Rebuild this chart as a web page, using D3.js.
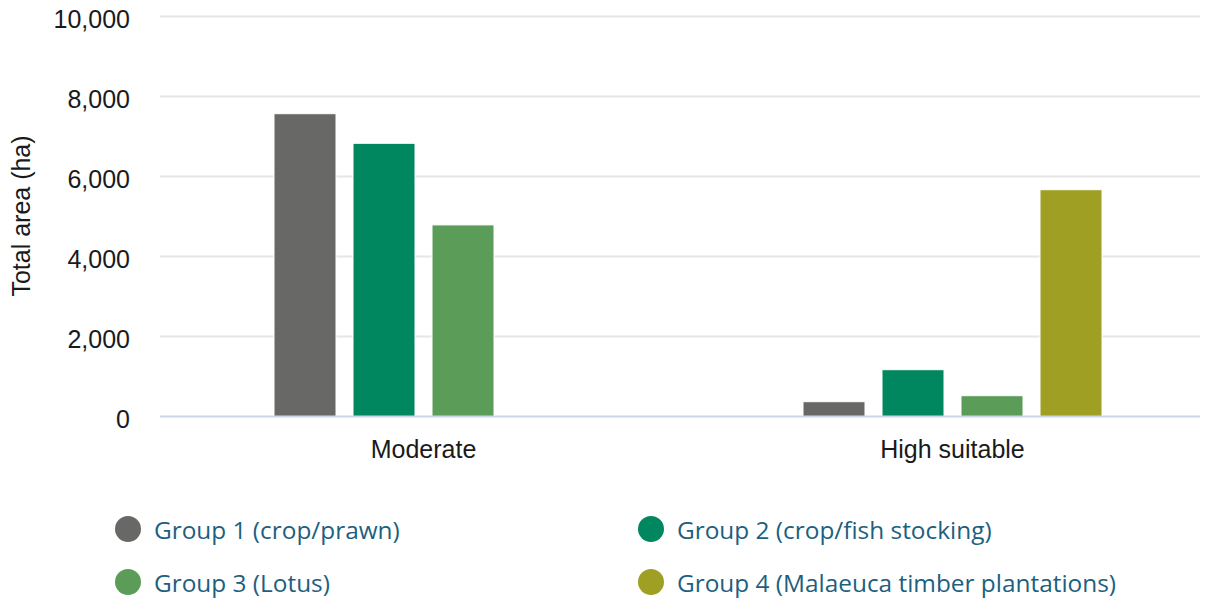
<!DOCTYPE html>
<html>
<head>
<meta charset="utf-8">
<script src="https://cdn.jsdelivr.net/npm/d3@7"></script>
<style>
  html, body { margin: 0; padding: 0; background: #ffffff; }
  svg { display: block; }
</style>
</head>
<body>
<svg id="chart" width="1216" height="602"></svg>
<script>
// Suitability classes on the x axis
const categories = ["Moderate", "High suitable"];
// Farming groups (one bar each per class)
const seriesNames = [
  "Group 1 (crop/prawn)",
  "Group 2 (crop/fish stocking)",
  "Group 3 (Lotus)",
  "Group 4 (Malaeuca timber plantations)"
];
const seriesColors = ["#686866", "#00875f", "#5b9c59", "#9fa023"];
// Total area (ha) per group, in category order
const group1 = [7570, 370];
const group2 = [6830, 1170];
const group3 = [4790, 520];
const group4 = [null, 5670];
const seriesValues = [group1, group2, group3, group4];
const yTicks = [0, 2000, 4000, 6000, 8000, 10000];

const svg = d3.select("#chart");

const y = d3.scaleLinear().domain([0, 10000]).range([416.5, 16.5]);
const x0 = d3.scaleBand().domain(categories).range([159, 1217]);
const x1 = d3.scaleBand()
  .domain(seriesNames)
  .range([115, 414])
  .paddingInner(17 / 79);

// Horizontal gridlines
const grid = svg.append("g");
grid.selectAll("line")
  .data(yTicks.filter(d => d !== 0))
  .join("line")
  .attr("x1", 160).attr("x2", 1200)
  .attr("y1", d => y(d)).attr("y2", d => y(d))
  .attr("stroke", "#e6e6e6")
  .attr("stroke-width", 2);

// Y axis tick labels
const yAxis = d3.axisLeft(y)
  .tickValues(yTicks)
  .tickSize(0)
  .tickPadding(0)
  .tickFormat(d3.format(","));
svg.append("g")
  .attr("transform", "translate(130,0)")
  .call(yAxis)
  .call(g => g.select(".domain").remove())
  .selectAll("text")
  .attr("dy", "0.45em")
  .attr("font-family", "'Liberation Sans', Arial, sans-serif")
  .attr("font-size", 25)
  .attr("fill", "#1a1a1a");

// Y axis title
svg.append("text")
  .attr("transform", "translate(30,216) rotate(-90)")
  .attr("text-anchor", "middle")
  .attr("font-family", "'Liberation Sans', Arial, sans-serif")
  .attr("font-size", 25)
  .attr("fill", "#1a1a1a")
  .text("Total area (ha)");

// Bars
const rows = [];
categories.forEach((c, ci) => {
  seriesNames.forEach((s, si) => {
    const v = seriesValues[si][ci];
    if (v != null) rows.push({ category: c, series: s, value: v, color: seriesColors[si] });
  });
});

svg.append("g")
  .selectAll("rect")
  .data(rows)
  .join("rect")
  .attr("x", d => x0(d.category) + x1(d.series))
  .attr("y", d => y(d.value))
  .attr("width", x1.bandwidth())
  .attr("height", d => y(0) - y(d.value))
  .attr("fill", d => d.color)
  .attr("stroke", "#ffffff")
  .attr("stroke-width", 1);

// Baseline
svg.append("line")
  .attr("x1", 160).attr("x2", 1200)
  .attr("y1", y(0)).attr("y2", y(0))
  .attr("stroke", "#ccd6eb")
  .attr("stroke-width", 2);

// Category labels
const xAxis = d3.axisBottom(x0).tickSize(0).tickPadding(0);
svg.append("g")
  .attr("transform", "translate(0,440)")
  .call(xAxis)
  .call(g => g.select(".domain").remove())
  .selectAll("text")
  .attr("dy", "0.71em")
  .attr("font-family", "'Liberation Sans', Arial, sans-serif")
  .attr("font-size", 25)
  .attr("fill", "#1a1a1a");

// Legend (two columns, two rows)
const legendPos = [
  { cx: 128, cy: 529 },
  { cx: 651, cy: 529 },
  { cx: 128, cy: 582 },
  { cx: 651, cy: 582 }
];
const legend = svg.append("g")
  .selectAll("g")
  .data(seriesNames)
  .join("g")
  .attr("transform", (d, i) => `translate(${legendPos[i].cx},${legendPos[i].cy})`);
legend.append("circle")
  .attr("r", 13)
  .attr("fill", (d, i) => seriesColors[i]);
legend.append("text")
  .attr("x", 26)
  .attr("dy", "0.42em")
  .attr("font-family", "'Open Sans', sans-serif")
  .attr("font-size", 24.4)
  .attr("fill", "#1d5f7f")
  .text(d => d);
</script>
</body>
</html>
